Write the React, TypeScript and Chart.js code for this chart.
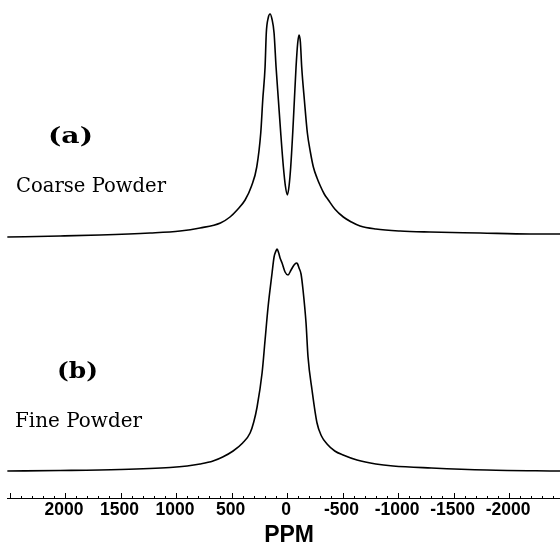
import { useEffect, useRef } from 'react';
import { Chart, registerables } from 'chart.js';

Chart.register(...registerables);

// Spectrum (a) Coarse Powder: chemical shift (ppm) and intensity (arb. units)
const ppmA = [2520, 2045, 1685, 1234, 964, 784, 600, 514, 450, 378, 320, 273, 237, 219, 198, 187, 170, 153, 136, 117, 99, 78, 57, 33, 15, -3, -18, -33, -51, -66, -81, -96, -108, -120, -132, -156, -183, -210, -237, -270, -300, -335, -372, -430, -507, -580, -658, -800, -1018, -1288, -1739, -2189, -2459];
const intA = [1, 2, 3, 5, 7, 10, 15, 21, 28, 38, 52, 71, 105, 138, 171, 205, 220, 224, 219, 205, 171, 138, 105, 71, 52, 43, 52, 71, 105, 138, 171, 195, 203, 196, 171, 138, 105, 86, 71, 60, 52, 44, 38, 29, 21, 16, 12, 9, 7, 6, 5, 4, 4];

// Spectrum (b) Fine Powder
const ppmB = [2520, 2045, 1505, 1054, 900, 784, 667, 580, 486, 400, 333, 300, 270, 225, 198, 171, 135, 117, 100, 90, 75, 63, 45, 18, -9, -36, -63, -85, -95, -108, -126, -144, -171, -189, -225, -270, -310, -360, -430, -505, -630, -800, -955, -1300, -1800, -2459];
const intB = [1, 1.5, 2.5, 4.5, 6, 8, 11, 15, 21, 29, 39, 50, 65, 99, 132, 165, 199, 215, 221, 223, 219, 214, 209, 200, 197, 202, 207, 209, 208, 204, 198, 182, 149, 115, 82, 49, 36, 28, 21, 17, 12, 8, 6, 4, 2, 1];

const tickLabels = [2000, 1500, 1000, 500, 0, -500, -1000, -1500, -2000];
const minorTicks = [2500, 2400, 2300, 2200, 2100, 2000, 1900, 1800, 1700, 1600, 1500, 1400, 1300, 1200, 1100, 1000, 900, 800, 700, 600, 500, 400, 300, 200, 100, 0, -100, -200, -300, -400, -500, -600, -700, -800, -900, -1000, -1100, -1200, -1300, -1400, -1500, -1600, -1700, -1800, -1900, -2000, -2100, -2200, -2300, -2400];
const AXIS_TITLE = 'PPM';
const OFFSET_A = 234;

const annotations = [
  { text: '(a)', x: 48, y: 143, font: 'bold 23px "DejaVu Serif"', width: 45 },
  { text: 'Coarse Powder', x: 16, y: 192, font: '20px "DejaVu Serif"', width: 150 },
  { text: '(b)', x: 57, y: 378, font: 'bold 23px "DejaVu Serif"', width: 41 },
  { text: 'Fine Powder', x: 15, y: 427, font: '20px "DejaVu Serif"', width: 127 },
];

const axisPlugin = {
  id: 'ppmAxis',
  afterDraw(chart: any) {
    const xs = chart.scales.x;
    const ctx = chart.ctx;
    const yb = chart.chartArea.bottom;
    ctx.save();
    ctx.strokeStyle = '#000';
    ctx.lineWidth = 1;
    for (const v of minorTicks) {
      const px = Math.round(xs.getPixelForValue(v)) + 0.5;
      const len = v % 500 === 0 ? 5 : 2;
      ctx.beginPath();
      ctx.moveTo(px, yb);
      ctx.lineTo(px, yb - len);
      ctx.stroke();
    }
    ctx.fillStyle = '#000';
    ctx.textAlign = 'center';
    ctx.textBaseline = 'middle';
    ctx.font = 'bold 17.5px "Liberation Sans", Arial, sans-serif';
    for (const v of tickLabels) {
      ctx.fillText(String(v), xs.getPixelForValue(v) - 1, yb + 12);
    }
    ctx.font = 'bold 23px "Liberation Sans", Arial, sans-serif';
    ctx.fillText(AXIS_TITLE, xs.getPixelForValue(0) + 2, yb + 38);

    ctx.textBaseline = 'alphabetic';
    ctx.textAlign = 'left';
    for (const a of annotations) {
      ctx.font = a.font;
      const w = ctx.measureText(a.text).width;
      ctx.save();
      ctx.translate(a.x, a.y);
      ctx.scale(a.width / w, 1);
      ctx.fillText(a.text, 0, 0);
      ctx.restore();
    }
    ctx.restore();
  },
};

export default function App() {
  const ref = useRef<HTMLCanvasElement>(null);
  useEffect(() => {
    document.body.style.margin = '0';
    const canvas = ref.current!;
    const dataA = ppmA.map((x, i) => ({ x, y: intA[i] + OFFSET_A }));
    const dataB = ppmB.map((x, i) => ({ x, y: intB[i] }));
    const chart = new Chart(canvas, {
      type: 'line',
      data: {
        datasets: [
          { label: 'Coarse Powder', data: dataA, borderColor: '#000', borderWidth: 1.6, pointRadius: 0, fill: false, cubicInterpolationMode: 'monotone' },
          { label: 'Fine Powder', data: dataB, borderColor: '#000', borderWidth: 1.6, pointRadius: 0, fill: false, cubicInterpolationMode: 'monotone' },
        ],
      },
      options: {
        responsive: false,
        animation: false,
        devicePixelRatio: 1,
        layout: { padding: { left: 7, right: 0, top: 0, bottom: 48 } },
        plugins: { legend: { display: false }, tooltip: { enabled: false } },
        scales: {
          x: {
            type: 'linear',
            reverse: true,
            min: -2459,
            max: 2523,
            grid: { display: true, drawOnChartArea: false, drawTicks: false },
            border: { display: true, color: '#000', width: 1 },
            ticks: { display: false },
            title: { display: false },
          },
          y: { display: false, min: -26, max: 472 },
        },
      },
      plugins: [axisPlugin],
    } as any);
    return () => chart.destroy();
  }, []);
  return <canvas ref={ref} width={560} height={546} style={{ display: 'block' }} />;
}
